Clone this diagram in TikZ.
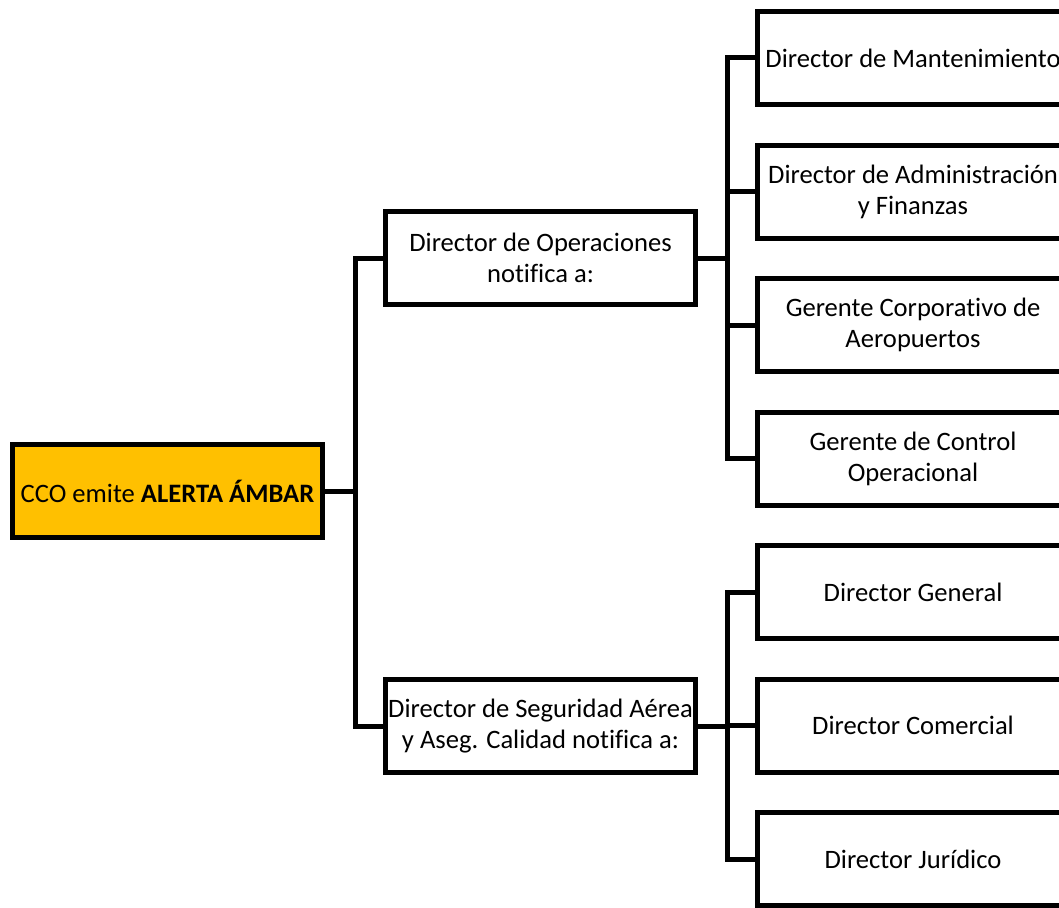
\documentclass[tikz,border=0pt]{standalone}
\usepackage{fontspec}
\setmainfont{Carlito}[Ligatures=NoCommon]
\usetikzlibrary{positioning}
\definecolor{ambar}{HTML}{FFC000}
\tikzset{
  caja/.style={draw, line width=5pt, minimum width=310pt, minimum height=93pt,
    inner sep=0pt, align=center, font=\fontsize{26.6}{31}\selectfont},
  enlace/.style={line width=5pt}
}

\begin{document}
\begin{tikzpicture}[x=1pt,y=-1pt]
\useasboundingbox (0,0) rectangle (1059,907);

\coordinate (B1) at (355,491);
\coordinate (B2) at (727,258);
\coordinate (B3) at (727,726);

% primer nivel
\node[caja, fill=ambar] (cco) at (167.5,491) {CCO emite \textbf{ALERTA ÁMBAR}};
\node[caja] (ops) at (540.5,258) {Director de Operaciones\\notifica a:};
\node[caja] (seg) at (540.5,726) {Director de Seguridad Aérea\\y Aseg. Calidad notifica a:};

% segundo nivel
\node[caja, minimum width=311pt] (mant) at (913,58) {Director de Mantenimiento};
\node[caja, minimum width=311pt] (admin) at (913,191.5) {Director de Administración\\y Finanzas};
\node[caja, minimum width=311pt] (aero) at (913,325) {Gerente Corporativo de\\Aeropuertos};
\node[caja, minimum width=311pt] (ctrl) at (913,458.5) {Gerente de Control\\Operacional};
\node[caja, minimum width=311pt] (gral) at (913,592) {Director General};
\node[caja, minimum width=311pt] (com) at (913,725.5) {Director Comercial};
\node[caja, minimum width=311pt] (jur) at (913,859) {Director Jurídico};

\draw[enlace] (cco) -- (B1);
\draw[enlace] (ops) -| (B1) |- (seg);

\draw[enlace] (ops) -- (B2);
\draw[enlace] (mant) -| (B2) |- (ctrl);
\draw[enlace] (B2 |- admin) -- (admin);
\draw[enlace] (B2 |- aero) -- (aero);

\draw[enlace] (seg) -- (B3);
\draw[enlace] (gral) -| (B3) |- (jur);
\draw[enlace] (B3 |- com) -- (com);
\end{tikzpicture}
\end{document}
